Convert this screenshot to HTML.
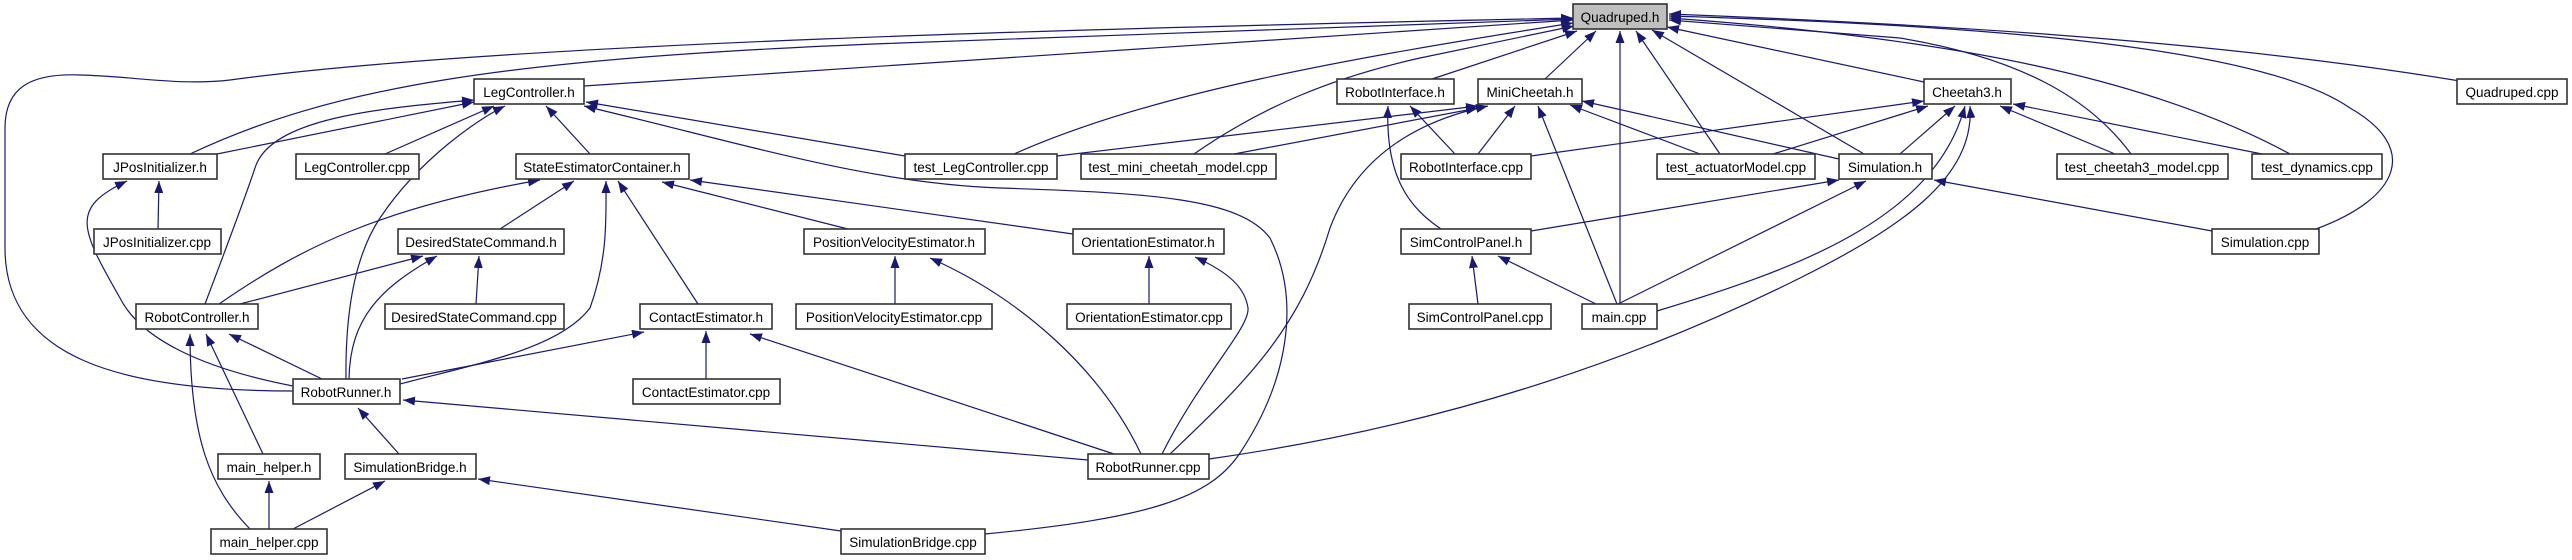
<!DOCTYPE html>
<html><head><meta charset="utf-8"><style>
html,body{margin:0;padding:0;background:#fff;}
svg{display:block;}
text{font-family:"Liberation Sans",Arial,sans-serif;font-size:13.5px;fill:#000;}
</style></head><body>
<svg width="2572" height="560" viewBox="0 0 2572 560" xmlns="http://www.w3.org/2000/svg">
<defs>
<marker id="a" markerUnits="userSpaceOnUse" markerWidth="12" markerHeight="9" refX="12" refY="4.5" orient="auto">
<path d="M0,0 L12,4.5 L0,9 z" fill="#191970"/>
</marker>
</defs>
<g transform="translate(0,-2)">
<g fill="none" stroke="#191970" stroke-width="1.2" marker-end="url(#a)">
<path d="M584,88 L1573,22"/>
<path d="M190,156 C330,90 500,60 900,45 L1573,21"/>
<path d="M293,393 C120,393 5,360 5,250 L5,130 C5,90 30,75 80,77 C130,78 180,88 230,82 C500,45 1100,30 1573,20"/>
<path d="M1014,156 C1150,95 1350,60 1573,25"/>
<path d="M1194,156 C1260,110 1330,80 1420,60 L1574,28"/>
<path d="M1432,81 L1577,33"/>
<path d="M1545,81 L1596,33"/>
<path d="M1620,306 L1620,33"/>
<path d="M1720,156 L1636,33"/>
<path d="M1864,156 L1652,32"/>
<path d="M1924,84 L1667,29"/>
<path d="M2131,156 C2090,100 2020,60 1900,40 L1669,22"/>
<path d="M2290,156 C2150,80 1950,40 1669,20"/>
<path d="M2316,231 C2400,200 2420,150 2350,110 C2250,40 1900,25 1669,18"/>
<path d="M2460,83 C2200,40 1900,25 1669,16"/>
<path d="M217,156 L474,104"/>
<path d="M205,306 C230,240 245,200 255,170 C270,120 380,110 474,102"/>
<path d="M385,156 L494,108"/>
<path d="M346,381 C345,300 360,250 380,220 C420,160 480,120 505,108"/>
<path d="M590,156 L546,108"/>
<path d="M905,158 L586,104"/>
<path d="M985,536 C1150,520 1210,500 1240,455 C1290,380 1300,300 1270,240 C1240,200 1150,195 1000,190 C870,185 760,150 584,108"/>
<path d="M219,306 C300,250 380,210 540,182"/>
<path d="M500,231 L574,183"/>
<path d="M400,386 C480,365 560,350 590,310 C608,260 606,220 606,183"/>
<path d="M698,306 L618,183"/>
<path d="M848,231 L662,184"/>
<path d="M1073,236 L690,182"/>
<path d="M240,306 L423,258"/>
<path d="M349,381 C350,320 380,290 437,258"/>
<path d="M476,306 L479,258"/>
<path d="M158,231 L159,183"/>
<path d="M293,388 C200,370 140,340 120,300 C80,230 70,210 127,183"/>
<path d="M322,381 L229,336"/>
<path d="M263,456 L206,336"/>
<path d="M250,531 C210,490 190,440 190,336"/>
<path d="M399,456 L358,410"/>
<path d="M1088,462 L403,402"/>
<path d="M402,381 L644,334"/>
<path d="M706,381 L706,333"/>
<path d="M1114,456 L750,336"/>
<path d="M895,306 L895,258"/>
<path d="M1141,456 C1100,370 1020,300 930,260"/>
<path d="M1149,306 L1149,258"/>
<path d="M1162,456 C1200,380 1250,330 1248,310 C1245,290 1230,275 1195,259"/>
<path d="M1057,158 L1478,108"/>
<path d="M1234,156 L1478,110"/>
<path d="M1170,456 C1250,380 1300,330 1330,230 C1360,150 1430,120 1488,108"/>
<path d="M1478,156 L1515,108"/>
<path d="M1617,306 L1538,108"/>
<path d="M1700,156 L1570,107"/>
<path d="M1839,161 L1582,103"/>
<path d="M1455,156 L1410,108"/>
<path d="M1441,231 C1410,210 1385,180 1388,108"/>
<path d="M1531,158 L1924,103"/>
<path d="M1773,156 L1928,108"/>
<path d="M1900,156 L1955,108"/>
<path d="M1657,313 C1800,270 1935,220 1965,108"/>
<path d="M1209,461 C1500,420 1700,330 1800,280 C1900,230 1975,180 1970,108"/>
<path d="M2115,156 L2000,108"/>
<path d="M2262,156 L2013,106"/>
<path d="M1531,233 L1839,182"/>
<path d="M1618,306 L1866,183"/>
<path d="M2212,233 L1934,182"/>
<path d="M1478,306 L1472,258"/>
<path d="M1596,306 L1498,258"/>
<path d="M269,531 L269,483"/>
<path d="M293,531 L385,483"/>
<path d="M841,533 L478,481"/>
</g>
<g stroke="#333" stroke-width="1.6" fill="#fff">
<rect x="1573" y="6" width="94" height="25" fill="#bfbfbf"/>
<rect x="474" y="81" width="110" height="25"/>
<rect x="1337" y="81" width="117" height="25"/>
<rect x="1478" y="81" width="104" height="25"/>
<rect x="1924" y="81" width="87" height="25"/>
<rect x="2457" y="81" width="110" height="25"/>
<rect x="103" y="156" width="114" height="25"/>
<rect x="296" y="156" width="123" height="25"/>
<rect x="516" y="156" width="173" height="25"/>
<rect x="905" y="156" width="152" height="25"/>
<rect x="1081" y="156" width="195" height="25"/>
<rect x="1401" y="156" width="130" height="25"/>
<rect x="1657" y="156" width="158" height="25"/>
<rect x="1839" y="156" width="93" height="25"/>
<rect x="2057" y="156" width="171" height="25"/>
<rect x="2252" y="156" width="130" height="25"/>
<rect x="94" y="231" width="127" height="25"/>
<rect x="398" y="231" width="166" height="25"/>
<rect x="804" y="231" width="181" height="25"/>
<rect x="1073" y="231" width="151" height="25"/>
<rect x="1401" y="231" width="130" height="25"/>
<rect x="2212" y="231" width="107" height="25"/>
<rect x="136" y="306" width="122" height="25"/>
<rect x="385" y="306" width="179" height="25"/>
<rect x="640" y="306" width="132" height="25"/>
<rect x="796" y="306" width="196" height="25"/>
<rect x="1067" y="306" width="164" height="25"/>
<rect x="1409" y="306" width="142" height="25"/>
<rect x="1582" y="306" width="75" height="25"/>
<rect x="293" y="381" width="107" height="25"/>
<rect x="633" y="381" width="147" height="25"/>
<rect x="218" y="456" width="102" height="25"/>
<rect x="345" y="456" width="131" height="25"/>
<rect x="1088" y="456" width="121" height="25"/>
<rect x="211" y="531" width="116" height="25"/>
<rect x="841" y="531" width="144" height="25"/>
</g>
<g text-anchor="middle">
<text x="1620" y="24">Quadruped.h</text>
<text x="529" y="99">LegController.h</text>
<text x="1395" y="99">RobotInterface.h</text>
<text x="1530" y="99">MiniCheetah.h</text>
<text x="1967" y="99">Cheetah3.h</text>
<text x="2512" y="99">Quadruped.cpp</text>
<text x="160" y="174">JPosInitializer.h</text>
<text x="357" y="174">LegController.cpp</text>
<text x="602" y="174">StateEstimatorContainer.h</text>
<text x="981" y="174">test_LegController.cpp</text>
<text x="1178" y="174">test_mini_cheetah_model.cpp</text>
<text x="1466" y="174">RobotInterface.cpp</text>
<text x="1736" y="174">test_actuatorModel.cpp</text>
<text x="1885" y="174">Simulation.h</text>
<text x="2142" y="174">test_cheetah3_model.cpp</text>
<text x="2317" y="174">test_dynamics.cpp</text>
<text x="157" y="249">JPosInitializer.cpp</text>
<text x="481" y="249">DesiredStateCommand.h</text>
<text x="894" y="249">PositionVelocityEstimator.h</text>
<text x="1148" y="249">OrientationEstimator.h</text>
<text x="1466" y="249">SimControlPanel.h</text>
<text x="2265" y="249">Simulation.cpp</text>
<text x="197" y="324">RobotController.h</text>
<text x="474" y="324">DesiredStateCommand.cpp</text>
<text x="706" y="324">ContactEstimator.h</text>
<text x="894" y="324">PositionVelocityEstimator.cpp</text>
<text x="1149" y="324">OrientationEstimator.cpp</text>
<text x="1480" y="324">SimControlPanel.cpp</text>
<text x="1619" y="324">main.cpp</text>
<text x="346" y="399">RobotRunner.h</text>
<text x="706" y="399">ContactEstimator.cpp</text>
<text x="269" y="474">main_helper.h</text>
<text x="410" y="474">SimulationBridge.h</text>
<text x="1148" y="474">RobotRunner.cpp</text>
<text x="269" y="549">main_helper.cpp</text>
<text x="913" y="549">SimulationBridge.cpp</text>
</g>
</g>
</svg>
</body></html>
